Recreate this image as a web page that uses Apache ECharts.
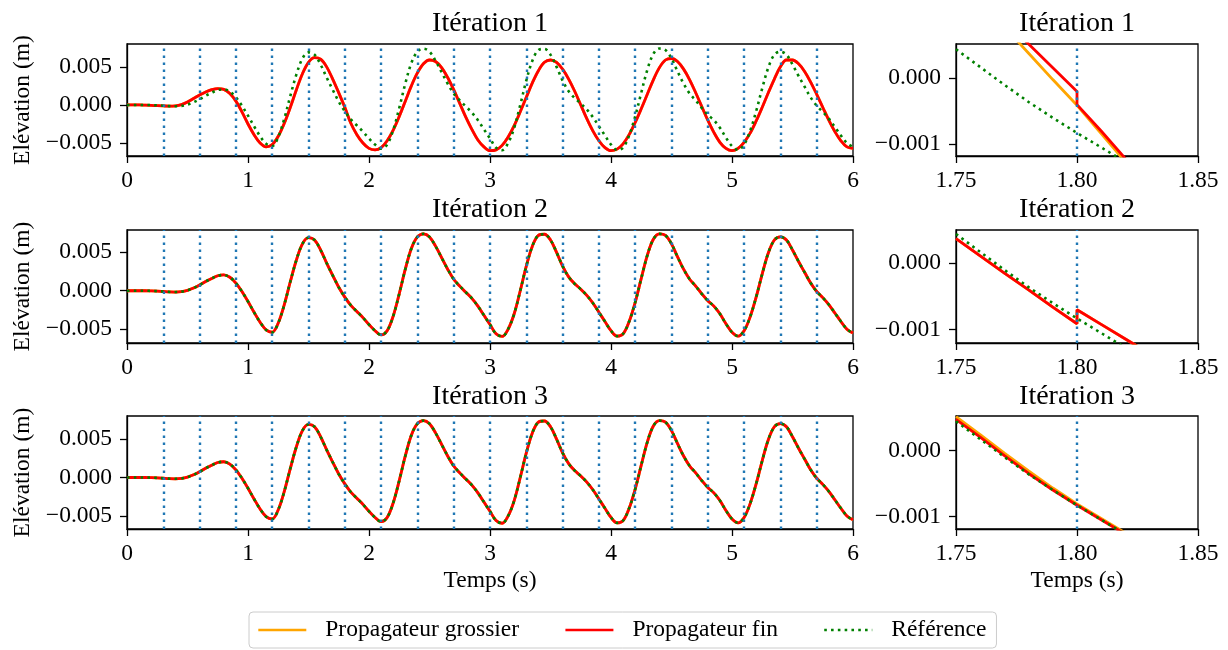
<!DOCTYPE html>
<html><head><meta charset="utf-8">
<script src="https://cdn.jsdelivr.net/npm/echarts@6/dist/echarts.min.js"></script>
<style>html,body{margin:0;padding:0;background:#fff}#c{width:1228px;height:650px}</style>
</head><body><div id="c"></div>
<script>
// ---- Data (elevation in mm, converted to m when plotted) ----
const times = [0,0.05,0.1,0.15,0.2,0.25,0.3,0.35,0.4,0.45,0.5,0.55,0.6,0.65,0.7,0.75,0.8,0.85,0.9,0.95,
1,1.05,1.1,1.15,1.2,1.25,1.3,1.35,1.4,1.45,1.5,1.55,1.6,1.65,1.7,1.75,1.8,1.85,1.9,1.95,
2,2.05,2.1,2.15,2.2,2.25,2.3,2.35,2.4,2.45,2.5,2.55,2.6,2.65,2.7,2.75,2.8,2.85,2.9,2.95,
3,3.05,3.1,3.15,3.2,3.25,3.3,3.35,3.4,3.45,3.5,3.55,3.6,3.65,3.7,3.75,3.8,3.85,3.9,3.95,
4,4.05,4.1,4.15,4.2,4.25,4.3,4.35,4.4,4.45,4.5,4.55,4.6,4.65,4.7,4.75,4.8,4.85,4.9,4.95,
5,5.05,5.1,5.15,5.2,5.25,5.3,5.35,5.4,5.45,5.5,5.55,5.6,5.65,5.7,5.75,5.8,5.85,5.9,5.95,6];

const refMM = [0.00,0.00,0.00,0.00,-0.02,-0.05,-0.10,-0.15,-0.17,-0.12,
0.05,0.35,0.75,1.20,1.60,1.95,2.05,1.75,1.00,-0.10,
-1.40,-2.80,-4.10,-5.10,-5.40,-4.20,-1.80,1.20,4.00,6.10,
6.90,6.60,5.30,3.60,2.00,0.45,-0.83,-1.90,-2.70,-3.50,
-4.40,-5.20,-5.75,-5.20,-3.30,-0.40,2.80,5.50,7.00,7.40,
7.00,5.80,4.30,2.80,1.50,0.60,-0.20,-1.00,-2.00,-3.20,
-4.40,-5.60,-5.95,-5.00,-3.00,0.00,3.20,5.80,7.20,7.35,
6.60,5.00,3.20,1.80,0.90,0.20,-0.60,-1.60,-2.80,-4.00,
-5.20,-5.90,-5.60,-4.00,-1.50,1.60,4.60,6.70,7.40,7.20,
6.10,4.40,2.80,1.50,0.60,-0.40,-1.30,-2.00,-3.00,-4.30,
-5.40,-5.90,-5.20,-3.40,-0.80,2.20,4.90,6.60,7.00,6.60,
5.30,3.80,2.40,1.00,-0.10,-0.90,-1.80,-2.90,-4.00,-5.00,
-5.50];

const fine1MM = [0.00,0.00,0.00,-0.02,-0.05,-0.10,-0.13,-0.15,-0.12,0.05,
0.40,0.85,1.30,1.70,2.00,2.15,2.05,1.50,0.50,-0.90,
-2.50,-3.90,-5.00,-5.50,-5.20,-4.10,-2.40,-0.30,2.00,4.10,
5.60,6.20,6.00,5.00,3.40,1.60,-0.30,-2.40,-3.90,-5.00,
-5.70,-5.90,-5.60,-4.70,-3.30,-1.50,0.50,2.50,4.20,5.40,
5.90,5.70,4.90,3.60,2.00,0.20,-1.60,-3.20,-4.60,-5.50,
-6.00,-5.90,-5.30,-4.20,-2.70,-0.90,1.00,2.90,4.50,5.60,
5.90,5.60,4.70,3.40,1.80,0.00,-1.80,-3.40,-4.70,-5.60,
-6.00,-5.80,-5.10,-3.90,-2.30,-0.50,1.40,3.30,4.90,5.90,
6.10,5.70,4.70,3.30,1.60,-0.20,-2.00,-3.60,-4.90,-5.70,
-6.00,-5.70,-4.90,-3.70,-2.10,-0.30,1.60,3.40,5.00,5.90,
5.90,5.40,4.40,3.00,1.40,-0.30,-2.00,-3.50,-4.70,-5.50,
-5.70];
const coarse1MM = fine1MM;   // visually indistinguishable at this scale
const fine2MM = refMM, coarse2MM = refMM;
const fine3MM = refMM, coarse3MM = refMM;

// slice boundaries (parareal windows)
const sliceBounds = [0.3,0.6,0.9,1.2,1.5,1.8,2.1,2.4,2.7,3.0,3.3,3.6,3.9,4.2,4.5,4.8,5.1,5.4,5.7];

// zoom window 1.75–1.85 s
const zoomT = [1.75,1.76,1.77,1.78,1.79,1.80,1.81,1.82,1.83];
const zoomJumpT = [1.75,1.76,1.77,1.78,1.79,1.80,1.80,1.81,1.82,1.83];
const zoomRefMM = [0.44,0.17,-0.10,-0.36,-0.60,-0.83,-1.05,-1.27,-1.50];
const zoomCoarse1MM = [1.56,1.17,0.78,0.38,-0.02,-0.41,-0.84,-1.27,-1.70];
const zoomFine1MM = [1.59,1.24,0.88,0.52,0.16,-0.20,-0.40,-0.80,-1.22,-1.63];
const zoomFine2MM = [0.37,0.11,-0.15,-0.40,-0.66,-0.91,-0.70,-0.92,-1.14,-1.36];
const zoomCoarse2MM = zoomFine2MM;
const zoomCoarse3MM = [0.51,0.24,-0.04,-0.31,-0.57,-0.81,-1.03,-1.25,-1.47];
const zoomFine3MM = [0.47,0.20,-0.08,-0.35,-0.60,-0.83,-1.05,-1.27,-1.49];

const titles = ['Itération 1','Itération 2','Itération 3'];
const yTicksLeft = [-0.005, 0, 0.005];
const yTicksRight = [-0.001, 0];
const xTicksRight = [1.75, 1.80, 1.85];

// ---- Chart ----
const FONT = 'Liberation Serif, Times New Roman, serif';
const FS = 23.5, FS_TITLE = 28;
const ORANGE = '#ffa500', RED = '#ff0000', GREEN = '#008000', BLUE = '#1f77b4';
const pairs = (t, v) => t.map((x, i) => [x, v[i] / 1000]);

const grids = [
  {left:127, top:44, width:726, height:112},
  {left:956, top:44, width:242, height:112},
  {left:127, top:230, width:726, height:113},
  {left:956, top:230, width:242, height:113},
  {left:127, top:416, width:726, height:113},
  {left:956, top:416, width:242, height:113}
].map(g => Object.assign({show:true, borderColor:'#000', borderWidth:1.3, backgroundColor:'#fff'}, g));

const yLims = [[-0.0067,0.0080],[-0.00118,0.00052],[-0.0068,0.0079],[-0.00120,0.00050],[-0.0067,0.0080],[-0.00119,0.00052]];
const fmtY = v => (v < 0 ? '\u2212' : '') + Math.abs(v).toFixed(3);

const axisCommon = {
  axisLine:{show:true, onZero:false, lineStyle:{color:'#000', width:1.3}},
  axisTick:{show:true, length:7, lineStyle:{color:'#000', width:1.3}},
  splitLine:{show:false},
  axisLabel:{fontFamily:FONT, fontSize:FS, color:'#000'},
  nameTextStyle:{fontFamily:FONT, fontSize:FS, color:'#000'}
};

const xAxes = [], yAxes = [];
for (let i = 0; i < 6; i++) {
  const right = i % 2 === 1;
  const x = Object.assign({}, axisCommon, {
    type:'value', gridIndex:i,
    min: right ? 1.75 : 0, max: right ? 1.85 : 6,
    axisLabel: Object.assign({}, axisCommon.axisLabel, {margin:13,
      formatter: right ? (v => v.toFixed(2)) : (v => String(Math.round(v)))})
  });
  if (right) {
    x.axisTick = Object.assign({}, axisCommon.axisTick, {customValues:xTicksRight});
    x.axisLabel.customValues = xTicksRight;
  } else {
    x.interval = 1;
  }
  if (i >= 4) { x.name = 'Temps (s)'; x.nameLocation = 'middle'; x.nameGap = 40; }
  xAxes.push(x);

  const yt = right ? yTicksRight : yTicksLeft;
  const y = Object.assign({}, axisCommon, {
    type:'value', gridIndex:i, min:yLims[i][0], max:yLims[i][1],
    axisTick: Object.assign({}, axisCommon.axisTick, {customValues:yt}),
    axisLabel: Object.assign({}, axisCommon.axisLabel, {customValues:yt, margin:15, formatter:fmtY})
  });
  if (!right) { y.name = 'Elévation (m)'; y.nameLocation = 'middle'; y.nameRotate = 90; y.nameGap = 91; }
  yAxes.push(y);
}

const lineSeries = (name, color, idx, data, dotted) => ({
  name, type:'line', xAxisIndex:idx, yAxisIndex:idx, data, symbol:'none', smooth: idx % 2 === 0 ? 0.35 : false,
  clip:true, silent:true, z: dotted ? 4 : (color === RED ? 3 : 2),
  lineStyle: dotted ? {color, width:2.6, type:[2.6,4.2]} : {color, width:2.8},
  itemStyle:{color}
});

const boundSeries = idx => {
  const lo = idx % 2 ? 1.75 : 0, hi = idx % 2 ? 1.85 : 6;
  return {
    type:'line', xAxisIndex:idx, yAxisIndex:idx, data:[], silent:true, z:1,
    markLine:{silent:true, symbol:['none','none'], label:{show:false}, animation:false,
      lineStyle:{color:BLUE, width:2.4, type:[2.4,4.6]},
      data: sliceBounds.filter(b => b > lo && b < hi).map(b => ({xAxis:b}))}
  };
};

const series = [];
const leftSets = [[coarse1MM, fine1MM], [coarse2MM, fine2MM], [coarse3MM, fine3MM]];
const zoomSets = [
  [pairs(zoomT, zoomCoarse1MM), pairs(zoomJumpT, zoomFine1MM)],
  [pairs(zoomJumpT, zoomCoarse2MM), pairs(zoomJumpT, zoomFine2MM)],
  [pairs(zoomT, zoomCoarse3MM), pairs(zoomT, zoomFine3MM)]
];
for (let r = 0; r < 3; r++) {
  const L = 2*r, R = 2*r + 1;
  series.push(boundSeries(L), boundSeries(R));
  series.push(lineSeries('Propagateur grossier', ORANGE, L, pairs(times, leftSets[r][0])));
  series.push(lineSeries('Propagateur fin', RED, L, pairs(times, leftSets[r][1])));
  series.push(lineSeries('Référence', GREEN, L, pairs(times, refMM), true));
  series.push(lineSeries('Propagateur grossier', ORANGE, R, zoomSets[r][0]));
  series.push(lineSeries('Propagateur fin', RED, R, zoomSets[r][1]));
  series.push(lineSeries('Référence', GREEN, R, pairs(zoomT, zoomRefMM), true));
}

const titleTops = [10, 196, 383];
const title = [];
for (let r = 0; r < 3; r++) {
  title.push({text:titles[r], left:127+363, top:titleTops[r], textAlign:'center', padding:0,
    textStyle:{fontFamily:FONT, fontSize:FS_TITLE, fontWeight:'normal', color:'#000'}});
  title.push({text:titles[r], left:956+121, top:titleTops[r], textAlign:'center', padding:0,
    textStyle:{fontFamily:FONT, fontSize:FS_TITLE, fontWeight:'normal', color:'#000'}});
}

const chart = echarts.init(document.getElementById('c'), null, {renderer:'canvas'});
chart.setOption({
  animation:false,
  backgroundColor:'#fff',
  title,
  grid:grids, xAxis:xAxes, yAxis:yAxes,
  legend:{
    data:['Propagateur grossier','Propagateur fin','Référence'],
    left:249, top:612, orient:'horizontal',
    itemWidth:48, itemHeight:14, itemGap:45,
    padding:[6,10,6,8],
    borderColor:'#cccccc', borderWidth:1, borderRadius:4, backgroundColor:'#fff',
    selectedMode:false,
    itemStyle:{opacity:0},
    lineStyle:{width:2.6},
    textStyle:{fontFamily:FONT, fontSize:FS, color:'#000', padding:[0,0,0,14]}
  },
  series
});
</script></body></html>
